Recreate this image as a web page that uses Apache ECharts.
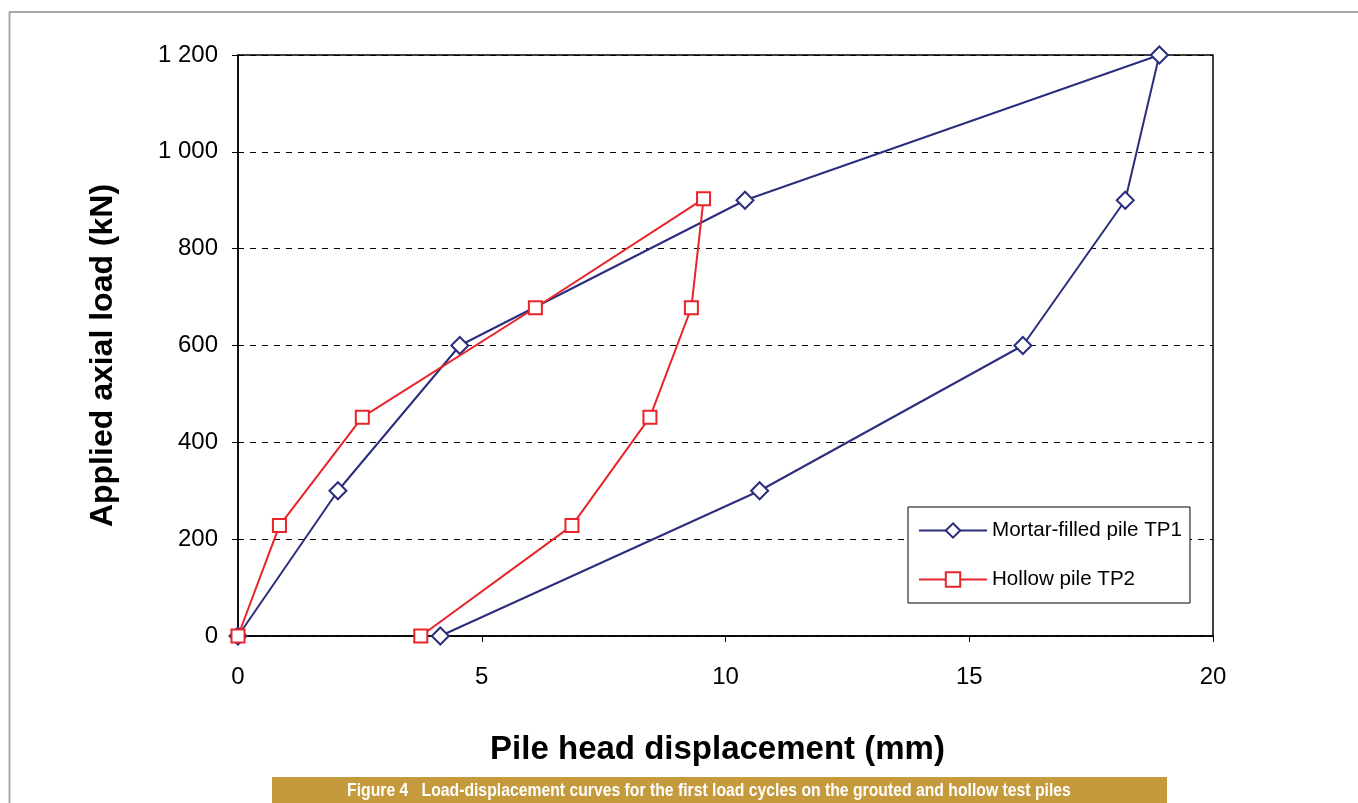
<!DOCTYPE html>
<html>
<head>
<meta charset="utf-8">
<style>
html,body{margin:0;padding:0;background:#fff;}
#chart{width:1358px;height:803px;}
</style>
<script src="https://cdn.jsdelivr.net/npm/echarts@6/dist/echarts.min.js"></script>
</head>
<body>
<div id="chart"></div>
<script>
// Data (displacement mm, load kN)
const tp1Disp = [0, 2.05, 4.55, 10.4, 18.9, 18.2, 16.1, 10.7, 4.15];
const tp1Load = [0, 300, 600, 900, 1200, 900, 600, 300, 0];
const tp2Disp = [0, 0.85, 2.55, 6.1, 9.55, 9.3, 8.45, 6.85, 3.75];
const tp2Load = [0, 228, 452, 678, 903, 678, 452, 228, 0];
const seriesNames = ['Mortar-filled pile TP1', 'Hollow pile TP2'];
const xTitle = 'Pile head displacement (mm)';
const yTitle = 'Applied axial load (kN)';
const caption = 'Figure 4   Load-displacement curves for the first load cycles on the grouted and hollow test piles';

const pairs = (xs, ys) => xs.map((x, i) => [x, ys[i]]);
const fmtThousands = v => String(v).replace(/\B(?=(\d{3})+(?!\d))/g, ' ');

const chart = echarts.init(document.getElementById('chart'));
const font = 'Liberation Sans, Arial, sans-serif';
chart.setOption({
  animation: false,
  backgroundColor: '#fff',
  grid: {left: 238, right: 145, top: 55, bottom: 167, show: true, borderColor: '#000', borderWidth: 1.5},
  xAxis: {
    type: 'value', min: 0, max: 20, interval: 5,
    name: xTitle, nameLocation: 'middle', nameGap: 97,
    nameTextStyle: {fontFamily: font, fontWeight: 'bold', fontSize: 33, color: '#000', padding: [0, 16, 0, 0]},
    axisLine: {lineStyle: {color: '#000', width: 1.5}},
    axisTick: {show: true, length: 6, lineStyle: {color: '#000'}},
    axisLabel: {fontFamily: font, fontSize: 24, color: '#000', margin: 29},
    splitLine: {show: false}
  },
  yAxis: {
    type: 'value', min: 0, max: 1200, interval: 200,
    name: yTitle, nameLocation: 'middle', nameGap: 119,
    nameTextStyle: {fontFamily: font, fontWeight: 'bold', fontSize: 32, color: '#000', padding: [0, 20, 0, 0]},
    axisLine: {show: true, lineStyle: {color: '#000', width: 1.5}},
    axisTick: {show: true, length: 6, lineStyle: {color: '#000'}},
    axisLabel: {fontFamily: font, fontSize: 24, color: '#000', margin: 20, formatter: fmtThousands},
    splitLine: {show: true, lineStyle: {color: '#000', type: [6, 6], width: 1}}
  },
  legend: {
    orient: 'vertical', left: 908, top: 507,
    padding: [13, 8, 13, 10], itemGap: 28,
    itemWidth: 68, itemHeight: 18,
    borderColor: '#000', borderWidth: 1, backgroundColor: '#fff',
    textStyle: {fontFamily: font, fontSize: 20.6, color: '#000'},
    data: seriesNames
  },
  series: [
    {
      name: seriesNames[0], type: 'line', data: pairs(tp1Disp, tp1Load),
      symbol: 'diamond', symbolSize: 17, showAllSymbol: true,
      lineStyle: {color: '#2A2E7C', width: 2},
      itemStyle: {color: '#fff', borderColor: '#2A2E7C', borderWidth: 2},
      z: 3
    },
    {
      name: seriesNames[1], type: 'line', data: pairs(tp2Disp, tp2Load),
      symbol: 'rect', symbolSize: 13, showAllSymbol: true,
      lineStyle: {color: '#E8232A', width: 2},
      itemStyle: {color: '#fff', borderColor: '#E8232A', borderWidth: 2},
      z: 4
    }
  ],
  graphic: [
    {type: 'line', shape: {x1: 9.5, y1: 12, x2: 9.5, y2: 803}, style: {stroke: '#a8a8a8', lineWidth: 2}},
    {type: 'line', shape: {x1: 9, y1: 12, x2: 1358, y2: 12}, style: {stroke: '#a8a8a8', lineWidth: 2}},
    {type: 'rect', shape: {x: 272, y: 777, width: 895, height: 26}, style: {fill: '#C49A3C'}},
    {type: 'text', x: 709, y: 791, scaleX: 0.875, originX: 0, style: {text: caption, fill: '#fff', fontFamily: 'Liberation Sans Narrow, Liberation Sans, sans-serif', fontWeight: 'bold', fontSize: 18, align: 'center', verticalAlign: 'middle'}}
  ]
});
</script>
</body>
</html>
